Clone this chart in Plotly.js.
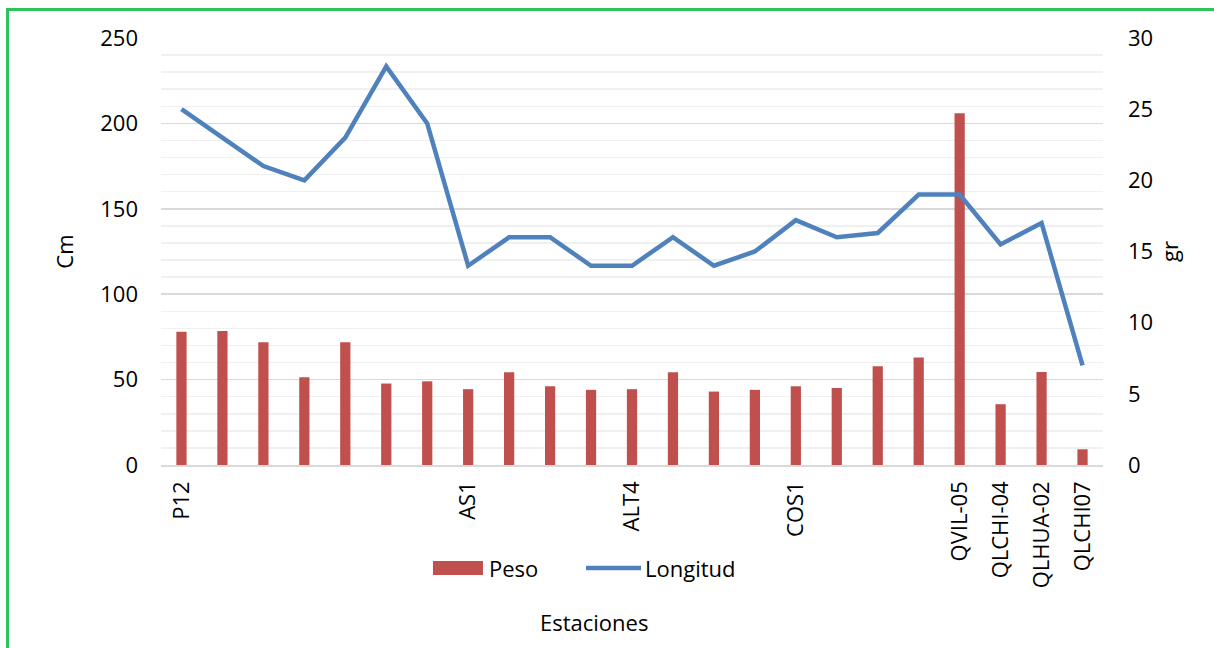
<!DOCTYPE html>
<html>
<head>
<meta charset="utf-8">
<script src="https://cdn.plot.ly/plotly-3.0.1.min.js"></script>
<style>
  html, body { margin: 0; padding: 0; background: #fff; }
  #wrap { position: relative; width: 1214px; height: 648px; overflow: hidden; }
  #chart { width: 1214px; height: 648px; }
  #frame { position: absolute; left: 6px; top: 8px; width: 1300px; height: 700px;
           border-left: 3px solid #2fc45a; border-top: 3px solid #2fc45a; pointer-events: none; }
</style>
</head>
<body>
<div id="wrap">
  <div id="chart"></div>
  <div id="frame"></div>
</div>
<script>
// Station labels (only some are shown on the axis in the original)
const etiquetas = ["P12", "", "", "", "", "", "", "AS1", "", "", "", "ALT4", "", "", "", "COS1",
                   "", "", "", "QVIL-05", "QLCHI-04", "QLHUA-02", "QLCHI07"];
// Peso (left axis, Cm)
const peso = [78, 78.4, 71.8, 51.4, 71.8, 47.7, 49, 44.4, 54.3, 46.1, 44, 44.4, 54.3, 43, 44, 46.1,
              45.1, 57.8, 62.9, 206, 35.6, 54.5, 9.2];
// Longitud (right axis, gr)
const longitud = [25, 23, 21, 20, 23, 28, 24, 14, 16, 16, 14, 14, 16, 14, 15, 17.2, 16, 16.3, 19, 19,
                  15.5, 17, 7];
const serieNombres = ["Peso", "Longitud"];
const ejeX = "Estaciones";

const idx = etiquetas.map((_, i) => i);
const tickvals = idx.filter(i => etiquetas[i] !== "");
const ticktext = tickvals.map(i => etiquetas[i]);

const FONT = "Open Sans, Calibri, sans-serif";
const FS = 22;
const BAR_COLOR = "#C0504D";
const LINE_COLOR = "#4F81BD";

const traces = [
  {
    type: "bar", name: serieNombres[0], x: idx, y: peso, yaxis: "y",
    width: 0.25, marker: { color: BAR_COLOR }, showlegend: false
  },
  {
    type: "scatter", mode: "lines", name: serieNombres[1], x: idx, y: longitud, yaxis: "y2",
    line: { color: LINE_COLOR, width: 4.5 }, showlegend: false
  }
];

const txt = { family: FONT, size: FS, color: "#000" };

const layout = {
  width: 1214, height: 648,
  margin: { l: 161, r: 111, t: 38, b: 183 },
  paper_bgcolor: "#fff", plot_bgcolor: "#fff",
  font: txt,
  showlegend: false,
  xaxis: {
    range: [-0.5, 22.5], tickmode: "array", tickvals: tickvals, ticktext: ticktext,
    tickangle: -90, ticks: "", showgrid: false, zeroline: false,
    showline: true, linecolor: "#d9d9d9", linewidth: 1.5,
    ticklabelstandoff: 6, tickfont: txt, automargin: false
  },
  yaxis: {
    range: [0, 250], tickmode: "linear", tick0: 0, dtick: 50,
    showgrid: true, gridcolor: "#d9d9d9", gridwidth: 1.5, zeroline: false,
    minor: { dtick: 10, showgrid: true, gridcolor: "#f0f0f0", gridwidth: 1.5, ticks: "" },
    ticks: "", ticklabelstandoff: 22, tickfont: txt,
    title: { text: "Cm", font: txt, standoff: 20 },
    automargin: false
  },
  yaxis2: {
    overlaying: "y", side: "right", range: [0, 30], tickmode: "linear", tick0: 0, dtick: 5,
    showgrid: false, zeroline: false, ticks: "", ticklabelstandoff: 24, tickfont: txt,
    title: { text: "gr", font: txt, standoff: 10 },
    automargin: false
  },
  shapes: [
    // legend swatches
    { type: "rect", xref: "paper", yref: "paper", x0: 0.2887, x1: 0.3418, y0: -0.2576, y1: -0.2248,
      fillcolor: BAR_COLOR, line: { width: 0 } },
    { type: "line", xref: "paper", yref: "paper", x0: 0.4512, x1: 0.5096, y0: -0.2412, y1: -0.2412,
      line: { color: LINE_COLOR, width: 4.5 } }
  ],
  annotations: [
    { xref: "paper", yref: "paper", x: 0.3462, y: -0.2412, xanchor: "left", yanchor: "middle",
      text: serieNombres[0], showarrow: false, font: txt },
    { xref: "paper", yref: "paper", x: 0.5118, y: -0.2412, xanchor: "left", yanchor: "middle",
      text: serieNombres[1], showarrow: false, font: txt },
    { xref: "paper", yref: "paper", x: 0.4597, y: -0.3677, xanchor: "center", yanchor: "middle",
      text: ejeX, showarrow: false, font: txt }
  ]
};

Plotly.newPlot("chart", traces, layout, { staticPlot: true, displayModeBar: false });
</script>
</body>
</html>
